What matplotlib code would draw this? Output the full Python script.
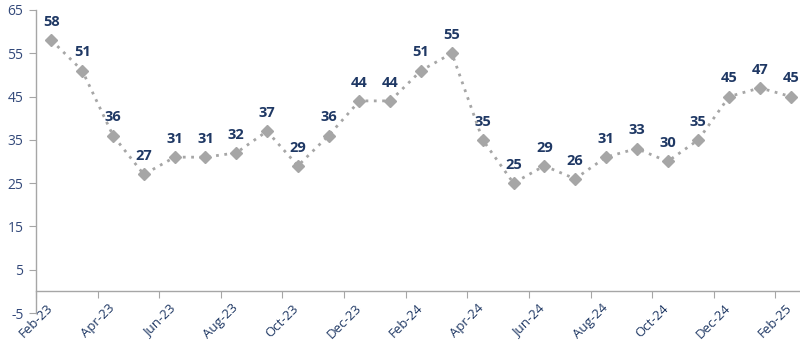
import matplotlib.pyplot as plt
import numpy as np

plt.rcParams['font.family'] = ['Open Sans', 'DejaVu Sans']

months = ['Feb-23', 'Mar-23', 'Apr-23', 'May-23', 'Jun-23', 'Jul-23', 'Aug-23',
          'Sep-23', 'Oct-23', 'Nov-23', 'Dec-23', 'Jan-24', 'Feb-24', 'Mar-24',
          'Apr-24', 'May-24', 'Jun-24', 'Jul-24', 'Aug-24', 'Sep-24', 'Oct-24',
          'Nov-24', 'Dec-24', 'Jan-25', 'Feb-25']
values = [58, 51, 36, 27, 31, 31, 32, 37, 29, 36, 44, 44, 51, 55,
          35, 25, 29, 26, 31, 33, 30, 35, 45, 47, 45]
yticks = [-5, 5, 15, 25, 35, 45, 55, 65]

navy = '#1F3864'
grey_axis = '#A6A6A6'

fig = plt.figure(figsize=(8, 3.44), dpi=100)
ax = fig.add_axes([0.045, 0.09, 0.955, 0.91])

x = np.arange(len(values))
ax.plot(x, values, linestyle=(0, (1, 2)), linewidth=2, color='#A6A6A6',
        marker='D', markersize=6, markerfacecolor='#A6A6A6',
        markeredgecolor='#A6A6A6', zorder=3)

for xi, v in zip(x, values):
    ax.annotate(str(v), (xi, v), xytext=(0, 8), textcoords='offset points',
                ha='center', va='bottom', fontsize=10.5, fontweight='bold',
                color=navy)

ax.set_ylim(-5, 67.3)
ax.set_xlim(-0.5, 24.3)
ax.set_yticks(yticks)
ax.set_yticklabels([str(t) for t in yticks])

tick_pos = x[::2] - 0.5
ax.set_xticks(tick_pos)
ax.set_xticklabels(months[::2])

ax.spines['top'].set_visible(False)
ax.spines['right'].set_visible(False)
ax.spines['bottom'].set_position(('data', 0))
ax.spines['left'].set_bounds(-5, 65)
for s in ('left', 'bottom'):
    ax.spines[s].set_color(grey_axis)
    ax.spines[s].set_linewidth(1)

ax.tick_params(axis='y', colors=grey_axis, labelcolor='#33497A', labelsize=10,
               length=5, direction='out', pad=4)
ax.tick_params(axis='x', colors=grey_axis, labelcolor=navy, labelsize=9.5,
               length=5, direction='out', pad=2.5, labelrotation=45)

for lab in ax.get_xticklabels():
    lab.set_ha('center')
    lab.set_va('top')

fig.savefig('out.png', dpi=100)
